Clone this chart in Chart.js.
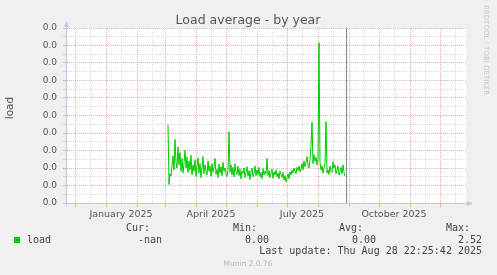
<!DOCTYPE html>
<html>
<head>
<meta charset="utf-8">
<title>Load average - by year</title>
<script src="https://cdn.jsdelivr.net/npm/chart.js@4.4.1/dist/chart.umd.min.js"></script>
<style>
  html, body { margin: 0; padding: 0; background: #f0f0f0; }
  canvas { display: block; }
</style>
</head>
<body>
<canvas id="loadYearChart" width="497" height="275"></canvas>
<script>
// days are counted from 1 January 2025 (day 0)
var firstDay = 62;
var loadValues = [
  1.23, 0.29, 0.46, 0.42, 0.58, 0.74, 0.52, 1.00, 0.64, 0.55,
  0.88, 0.60, 0.79, 0.50, 0.70, 0.47, 0.62, 0.83, 0.55, 0.72,
  0.48, 0.66, 0.52, 0.75, 0.44, 0.60, 0.50, 0.68, 0.42, 0.58,
  0.71, 0.47, 0.62, 0.40, 0.55, 0.73, 0.46, 0.60, 0.51, 0.44,
  0.66, 0.50, 0.58, 0.42, 0.62, 0.48, 0.56, 0.70, 0.45, 0.53,
  0.40, 0.61, 0.47, 0.57, 0.43, 0.64, 0.50, 0.55, 0.46, 0.42,
  0.52, 1.12, 0.48, 0.60, 0.44, 0.56, 0.41, 0.62, 0.49, 0.45,
  0.58, 0.43, 0.53, 0.38, 0.50, 0.46, 0.55, 0.40, 0.48, 0.57,
  0.42, 0.51, 0.37, 0.49, 0.55, 0.41, 0.47, 0.58, 0.43,
  0.52, 0.45, 0.56, 0.41, 0.48, 0.38, 0.54, 0.44, 0.50, 0.46,
  0.70, 0.43, 0.51, 0.40, 0.47, 0.53, 0.39, 0.49, 0.44, 0.52,
  0.41, 0.47, 0.38, 0.50, 0.45, 0.40, 0.48, 0.36, 0.43, 0.33,
  0.40, 0.46, 0.38, 0.49, 0.44, 0.52, 0.47, 0.55, 0.50, 0.46,
  0.56, 0.51, 0.58, 0.49, 0.54, 0.62, 0.52, 0.66, 0.57, 0.63,
  0.73, 0.60, 0.55, 0.68, 0.90, 1.27, 0.62, 0.76, 0.66, 0.72,
  0.60, 0.70, 2.52, 0.64, 0.52, 0.58, 0.47, 0.55, 0.62, 1.28,
  0.47, 0.52, 0.45, 0.58, 0.50, 0.48, 0.65, 0.55, 0.60, 0.46,
  0.52, 0.58, 0.44, 0.50, 0.56, 0.46, 0.60, 0.48, 0.42
];
var lastUpdateDay = 240;

// month starts (Dec 2024 .. Dec 2025) and the labelled months
var monthStarts = [-31, 0, 31, 59, 90, 120, 151, 181, 212, 243, 273, 304, 334];
var monthLabels = ['January 2025', 'April 2025', 'July 2025', 'October 2025'];
var monthLabelStarts = [0, 90, 181, 273];

var yMax = 2.75;
var yStep = 0.275;
var yTickLabel = '0.0';

var legendHeads = ['Cur:', 'Min:', 'Avg:', 'Max:'];
var legendValues = ['-nan', '0.00', '0.00', '2.52'];

var majorGrid = 'rgba(222, 100, 100, 0.5)';
var minorGrid = 'rgba(170, 170, 170, 0.45)';
var axisColor = '#c4c6f0';

// x ticks: month start (red) + mid month (gray)
function buildXTicks() {
  var ticks = [];
  monthStarts.forEach(function (d) {
    if (d >= -40 && d <= 360) ticks.push({ value: d, kind: 'major' });
    if (d + 15 >= -40 && d + 15 <= 360) ticks.push({ value: d + 15, kind: 'minor' });
  });
  ticks.sort(function (a, b) { return a.value - b.value; });
  return ticks;
}

function buildYTicks() {
  var ticks = [];
  for (var i = 0; i <= 20; i++) {
    ticks.push({ value: i * yStep / 2, kind: (i % 2 === 0) ? 'major' : 'minor' });
  }
  return ticks;
}

var points = loadValues.map(function (v, i) { return { x: firstDay + i, y: v }; });

var decorPlugin = {
  id: 'decor',
  beforeDraw: function (chart) {
    var ctx = chart.ctx, a = chart.chartArea;
    ctx.save();
    ctx.fillStyle = '#f0f0f0';
    ctx.fillRect(0, 0, chart.width, chart.height);
    ctx.fillStyle = '#ffffff';
    ctx.fillRect(a.left, a.top, a.right - a.left, a.bottom - a.top);
    ctx.restore();
  },
  afterDraw: function (chart) {
    var ctx = chart.ctx, a = chart.chartArea;
    var xs = chart.scales.x;
    ctx.save();

    // last update marker
    var vx = Math.round(xs.getPixelForValue(lastUpdateDay)) + 0.5;
    ctx.strokeStyle = '#8a8a8a';
    ctx.lineWidth = 1;
    ctx.beginPath();
    ctx.moveTo(vx, a.top);
    ctx.lineTo(vx, a.bottom);
    ctx.stroke();

    // axis arrows
    ctx.strokeStyle = axisColor;
    ctx.fillStyle = axisColor;
    ctx.beginPath();
    ctx.moveTo(a.left + 0.5, a.top - 2);
    ctx.lineTo(a.left + 0.5, a.bottom + 3);
    ctx.moveTo(a.left - 3, a.bottom + 0.5);
    ctx.lineTo(a.right + 3, a.bottom + 0.5);
    ctx.stroke();
    ctx.beginPath();
    ctx.moveTo(a.left - 2, a.top - 1);
    ctx.lineTo(a.left + 3, a.top - 1);
    ctx.lineTo(a.left + 0.5, a.top - 7);
    ctx.closePath();
    ctx.fill();
    ctx.beginPath();
    ctx.moveTo(a.right + 1, a.bottom - 2);
    ctx.lineTo(a.right + 1, a.bottom + 3);
    ctx.lineTo(a.right + 7, a.bottom + 0.5);
    ctx.closePath();
    ctx.fill();

    // title
    ctx.fillStyle = '#555555';
    ctx.font = '12.5px "DejaVu Sans"';
    ctx.textAlign = 'center';
    ctx.textBaseline = 'alphabetic';
    ctx.fillText('Load average - by year', 248, 24);

    // vertical axis name
    ctx.save();
    ctx.translate(10, 108);
    ctx.rotate(-Math.PI / 2);
    ctx.font = '10.5px "DejaVu Sans"';
    ctx.textBaseline = 'middle';
    ctx.fillText('load', 0, 0);
    ctx.restore();

    // watermark on the right
    ctx.save();
    ctx.translate(486, 5);
    ctx.rotate(Math.PI / 2);
    ctx.font = '7px "DejaVu Sans"';
    ctx.fillStyle = '#c8c8c8';
    ctx.textAlign = 'left';
    ctx.textBaseline = 'middle';
    ctx.fillText('RRDTOOL / TOBI OETIKER', 0, 0);
    ctx.restore();

    // legend
    ctx.fillStyle = '#00cc00';
    ctx.fillRect(14, 237, 6, 6);
    ctx.font = '10px "DejaVu Sans Mono"';
    ctx.fillStyle = '#444444';
    ctx.textBaseline = 'middle';
    ctx.textAlign = 'left';
    ctx.fillText('load', 27, 240);
    ctx.textAlign = 'right';
    var headRight = [150, 257, 363, 470];
    var valRight = [162, 269, 376, 482];
    legendHeads.forEach(function (h, i) { ctx.fillText(h, headRight[i], 228); });
    legendValues.forEach(function (v, i) { ctx.fillText(v, valRight[i], 240); });
    ctx.fillText('Last update: Thu Aug 28 22:25:42 2025', 482, 251);

    ctx.textAlign = 'center';
    ctx.font = '7.5px "DejaVu Sans"';
    ctx.fillStyle = '#bbbbbb';
    ctx.fillText('Munin 2.0.76', 248, 264);

    ctx.restore();
  }
};

var loadCanvas = document.getElementById('loadYearChart').getContext('2d');

new Chart(loadCanvas, {
  type: 'line',
  data: {
    datasets: [{
      label: 'load',
      data: points,
      borderColor: '#00cc00',
      borderWidth: 1,
      pointRadius: 0,
      fill: false,
      tension: 0
    }]
  },
  options: {
    responsive: false,
    animation: false,
    devicePixelRatio: 1,
    layout: { padding: { top: 28, right: 31, left: 0, bottom: 0 } },
    plugins: {
      legend: { display: false },
      title: { display: false },
      tooltip: { enabled: false }
    },
    scales: {
      x: {
        type: 'linear',
        min: -40,
        max: 360,
        afterBuildTicks: function (scale) { scale.ticks = buildXTicks(); },
        afterFit: function (scale) { scale.height = 72; },
        border: { display: true, color: axisColor, dash: [1, 1] },
        grid: {
          color: function (c) { return c.tick && c.tick.kind === 'major' ? majorGrid : minorGrid; },
          tickColor: function (c) { return c.tick && c.tick.kind === 'major' ? majorGrid : 'rgba(0,0,0,0)'; },
          tickLength: 4,
          lineWidth: 1
        },
        ticks: {
          autoSkip: false,
          maxRotation: 0,
          padding: 2,
          color: '#555555',
          font: { family: 'DejaVu Sans', size: 9.5 },
          callback: function (value) {
            var idx = monthLabelStarts.indexOf(value - 15);
            return idx >= 0 ? monthLabels[idx] : '';
          }
        }
      },
      y: {
        type: 'linear',
        min: 0,
        max: yMax,
        afterBuildTicks: function (scale) { scale.ticks = buildYTicks(); },
        afterFit: function (scale) { scale.width = 66; },
        border: { display: true, color: axisColor, dash: [1, 1] },
        grid: {
          color: function (c) { return c.tick && c.tick.kind === 'major' ? majorGrid : minorGrid; },
          tickColor: function (c) { return c.tick && c.tick.kind === 'major' ? majorGrid : minorGrid; },
          tickLength: 3,
          lineWidth: 1
        },
        ticks: {
          autoSkip: false,
          padding: 6,
          color: '#555555',
          font: { family: 'DejaVu Sans', size: 9 },
          callback: function (value, index) {
            return index % 2 === 0 ? yTickLabel : '';
          }
        }
      }
    }
  },
  plugins: [decorPlugin]
});
</script>
</body>
</html>
